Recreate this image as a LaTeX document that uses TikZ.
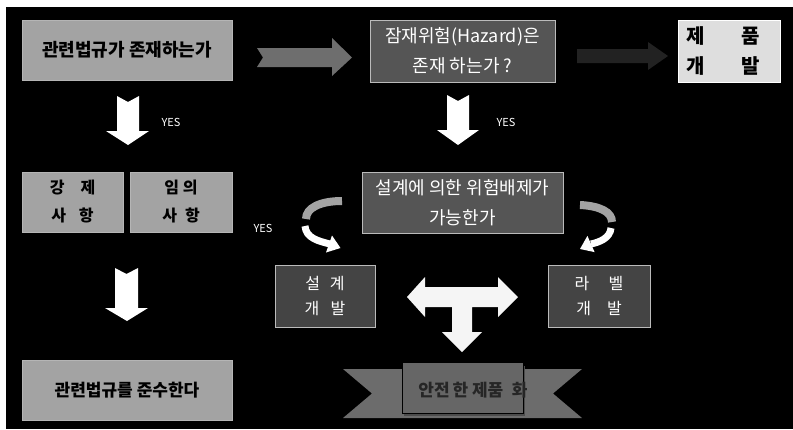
\documentclass[tikz,border=0pt]{standalone}
\usepackage{fontspec}
\setmainfont{Noto Sans CJK KR}
\begin{document}
\begin{tikzpicture}[x=1pt,y=-1pt]
\definecolor{lightg}{HTML}{A3A3A3}
\definecolor{darkg}{HTML}{555555}
\definecolor{darkerg}{HTML}{444444}
\definecolor{paleg}{HTML}{DEDEDE}
\definecolor{arrowg}{HTML}{6E6E6E}
\definecolor{faintg}{HTML}{222222}
\definecolor{edgeg}{HTML}{BBBBBB}
\tikzset{
  box/.style={inner sep=0pt, outer sep=0pt, align=center, line width=0.8pt},
  lightbox/.style={box, fill=lightg, draw=lightg!80!white, text=black, font=\bfseries\fontsize{18}{28}\selectfont},
  darkbox/.style={box, fill=darkg, draw=edgeg, text=white, font=\fontsize{18}{30}\selectfont},
  devbox/.style={box, fill=darkerg, draw=edgeg, text=white, font=\fontsize{16}{25}\selectfont},
  yeslabel/.style={text=white, font=\fontsize{11}{11}\selectfont, inner sep=0pt},
  blockarrow/.style={fill=white, draw=none},
}
\useasboundingbox (0,0) rectangle (793,429);
\fill[white] (0,0) rectangle (793,429);
\fill[black] (6,7) rectangle (793,429);

% boxes
\node[lightbox, minimum width=210pt, minimum height=60pt] (law) at (127,50) {관련법규가 존재하는가};
\node[darkbox, minimum width=185pt, minimum height=62pt] (hazard) at (462.5,51) {잠재위험(Hazard)은\\존재 하는가 ?};
\node[box, fill=paleg, draw=white, minimum width=102pt, minimum height=62pt] (product) at (729,51) {};
\node[inner sep=0pt, align=center, text=black, font=\bfseries\fontsize{20}{30}\selectfont] (producttext) at (723,51) {제\hspace{1.8em}품\\개\hspace{1.8em}발};
\node[lightbox, font=\bfseries\fontsize{16}{28}\selectfont, minimum width=101pt, minimum height=60pt] (mand) at (72.5,202) {강\hspace{1em}제\\사\hspace{0.8em}항};
\node[lightbox, font=\bfseries\fontsize{16}{28}\selectfont, minimum width=102pt, minimum height=60pt] (opt) at (181,202) {임\hspace{0.25em}의\\사\hspace{0.5em}항};
\node[lightbox, font=\bfseries\fontsize{17}{28}\selectfont, minimum width=210pt, minimum height=60pt] (comply) at (127,390) {관련법규를 준수한다};
\node[darkbox, minimum width=201pt, minimum height=61pt] (design) at (462.5,202.5) {설계에 의한 위험배제가\\가능한가};
\node[devbox, minimum width=100pt, minimum height=62pt] (ddev) at (325,296) {설\hspace{0.6em}계\\개\hspace{0.7em}발};
\node[devbox, minimum width=102pt, minimum height=62pt] (ldev) at (599,296) {라\hspace{1.2em}벨\\개\hspace{1em}발};

% horizontal arrows
\fill[arrowg] (257,48) -- (263,57.5) -- (257,67) -- (332,67) -- (332,76) -- (352,57.5) -- (332,38) -- (332,48) -- cycle;
\fill[faintg] (577,49) -- (648,49) -- (648,42) -- (668,56) -- (648,70) -- (648,63) -- (577,63) -- cycle;

% down arrows
\fill[blockarrow] (117,96) -- (128,102) -- (139,96) -- (139,131) -- (149,131) -- (128,145) -- (106,131) -- (117,131) -- cycle;
\fill[blockarrow] (447,95) -- (458,101) -- (469,95) -- (469,130) -- (479,130) -- (458,145) -- (437,130) -- (447,130) -- cycle;
\fill[blockarrow] (115,268) -- (126.5,274) -- (138,268) -- (138,308) -- (148,308) -- (127,321) -- (105,308) -- (115,308) -- cycle;

\node[yeslabel] (yes1) at (171,122) {YES};
\node[yeslabel] (yes2) at (506,122) {YES};
\node[yeslabel] (yes3) at (263,228) {YES};

% curved arrows
\draw[line width=8pt, lightg] (342,201) .. controls (320,201) and (306,208) .. (306,219);
\draw[line width=7pt, white] (305,226) .. controls (306,238) and (318,241) .. (330,244);
\fill[white] (332,235.5) -- (340.5,248) -- (326,252.5) -- cycle;
\draw[line width=8pt, lightg] (580,205) .. controls (600,206) and (612,212) .. (612,222);
\draw[line width=7pt, white] (611,228) .. controls (610,238) and (600,242) .. (591,244);
\fill[white] (587.4,235.9) -- (580,249) -- (594.6,252.1) -- cycle;

% T arrow
\fill[white!92!gray] (407,297) -- (425,277) -- (425,287) -- (498,287) -- (498,277) -- (518,297) -- (498,317) -- (498,307) -- (472,307) -- (472,332) -- (482,332) -- (462,352) -- (442,332) -- (452,332) -- (452,307) -- (425,307) -- (425,317) -- cycle;

% ribbon
\fill[gray!85!black] (343,369) -- (582,369) -- (553,393.5) -- (582,418) -- (343,418) -- (372,393.5) -- cycle;
\fill[black!70] (404,366) rectangle (525,416);
\node[box, fill=gray!80!black, draw=black, minimum width=121pt, minimum height=51pt] (safe) at (462.5,387.5) {};
\node[inner sep=0pt, text=black!85, font=\bfseries\fontsize{17}{17}\selectfont] (safetext) at (473,390) {안전\,한 제품\hspace{0.5em}화};
\end{tikzpicture}
\end{document}
